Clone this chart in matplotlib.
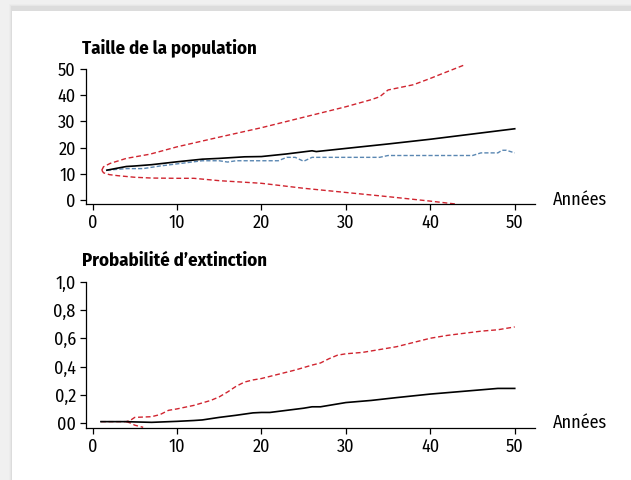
import numpy as np
import matplotlib.pyplot as plt
from matplotlib.patches import Rectangle

plt.rcParams['font.family'] = ['Fira Sans Condensed', 'DejaVu Sans']
plt.rcParams['font.stretch'] = 'condensed'

# --- population size (top panel) ---
mean_x = [1.7, 3, 4, 5, 7, 10, 13, 15, 18, 20, 23, 25, 26, 26.5, 30, 35, 40, 45, 50]
mean_y = [11.4, 12.2, 12.8, 13, 13.5, 14.6, 15.6, 15.9, 16.5, 16.6, 17.6, 18.4, 18.8, 18.5, 19.7, 21.4, 23.2, 25.2, 27.2]

median_x = [1.7, 4, 6, 8, 10, 12, 13, 15, 16, 17, 22, 23, 24, 25, 26, 34, 35, 45, 46, 48, 48.5, 49, 50]
median_y = [11.4, 12, 12, 13, 13.8, 14.6, 15, 15, 14.5, 15, 15, 16.3, 16.3, 14.8, 16.3, 16.3, 17, 17, 18, 18, 19, 19, 18]

upper_x = [1.1, 1.3, 2.1, 4, 6.8, 10, 15, 20, 25, 30, 33, 34, 35, 38, 40, 41, 44]
upper_y = [11.4, 12.7, 14, 15.9, 17.5, 20.3, 24, 27.6, 31.6, 35.6, 38.3, 39.4, 42, 44, 46.4, 47.7, 51.5]

lower_x = [1.1, 1.3, 2, 3, 5, 7, 10, 12, 15, 20, 25, 30, 35, 40, 43]
lower_y = [11.4, 10.4, 9.7, 9.3, 8.7, 8.4, 8.3, 8.3, 7.4, 6.4, 4.5, 2.9, 1.3, -0.4, -1.5]

# --- extinction probability (bottom panel) ---
pext_x = [1, 4, 5, 7, 10, 12, 13, 15, 17, 19, 20, 21, 23, 25, 26, 27, 28, 30, 33, 36, 40, 43, 46, 48, 50]
pext_y = [0.01, 0.01, 0.008, 0.005, 0.012, 0.018, 0.022, 0.04, 0.055, 0.072, 0.075, 0.075, 0.09,
          0.105, 0.115, 0.115, 0.125, 0.145, 0.16, 0.18, 0.205, 0.22, 0.235, 0.245, 0.245]

pext_hi_x = [1, 4, 4.5, 5, 7, 8, 9, 10, 12, 14, 15, 16, 17, 18, 19, 20, 22, 24, 26, 27, 28, 29, 30,
             32, 34, 36, 38, 40, 42, 44, 46, 48, 50]
pext_hi_y = [0.01, 0.01, 0.02, 0.04, 0.045, 0.06, 0.09, 0.1, 0.125, 0.16, 0.185, 0.22, 0.26, 0.29,
             0.305, 0.315, 0.345, 0.375, 0.41, 0.425, 0.455, 0.48, 0.49, 0.5, 0.52, 0.54, 0.57,
             0.6, 0.62, 0.635, 0.65, 0.66, 0.68]

pext_lo_x = [4, 4.5, 5, 6]
pext_lo_y = [0.01, 0.0, -0.015, -0.03]

xticks = [0, 10, 20, 30, 40, 50]
pop_ticks = [0, 10, 20, 30, 40, 50]
prob_ticks = [0, 0.2, 0.4, 0.6, 0.8, 1.0]
prob_labels = ['00', '0,2', '0,4', '0,6', '0,8', '1,0']

red = '#d0242f'
blue = '#5a87b2'
fs = 13

fig = plt.figure(figsize=(6.31, 4.8), dpi=100, facecolor='#f0f0f0')
# white card with soft shadow
for i, a in enumerate([0.015, 0.025, 0.04]):
    fig.patches.append(Rectangle(((9 + i) / 631, 0), 1, (471 - i) / 480 + 0.01,
                                 transform=fig.transFigure, facecolor='#000000',
                                 alpha=a, edgecolor='none', zorder=-10))
fig.patches.append(Rectangle((12 / 631, 0), 1, 469 / 480, transform=fig.transFigure,
                             facecolor='white', edgecolor='none', zorder=-5))


def style(ax, ylim, yticks, ylabels):
    ax.set_xlim(-0.83, 52.4)
    ax.set_ylim(*ylim)
    ax.spines[['top', 'right']].set_visible(False)
    ax.spines['left'].set_bounds(ylim[0], yticks[-1])
    ax.spines[['left', 'bottom']].set_linewidth(0.9)
    ax.set_xticks(xticks)
    ax.set_yticks(yticks)
    ax.set_yticklabels(ylabels)
    ax.tick_params(labelsize=fs, length=4, width=0.9, pad=3)
    ax.set_facecolor('none')
    ax.text(1.04, 0, 'Années', transform=ax.get_yaxis_transform(), fontsize=fs,
            va='center', ha='left')


ax1 = fig.add_axes([85.5 / 631, (480 - 204) / 480, (535 - 85.5) / 631, (204 - 69) / 480])
ax1.plot(upper_x, upper_y, color=red, lw=1, ls=(0, (3.5, 2)), clip_on=False)
ax1.plot(lower_x, lower_y, color=red, lw=1, ls=(0, (3.5, 2)), clip_on=False)
ax1.plot(median_x, median_y, color=blue, lw=1, ls=(0, (3, 1.5)))
ax1.plot(mean_x, mean_y, color='black', lw=1.2)
style(ax1, (-1.5, 50), pop_ticks, [str(t) for t in pop_ticks])
ax1.set_title('Taille de la population', loc='left', fontsize=13.5, fontweight='bold',
              x=-0.008, pad=11)

ax2 = fig.add_axes([85.5 / 631, (480 - 428) / 480, (535 - 85.5) / 631, (428 - 281.7) / 480])
ax2.plot(pext_hi_x, pext_hi_y, color=red, lw=1, ls=(0, (3.5, 2)))
ax2.plot(pext_lo_x, pext_lo_y, color=red, lw=1, ls=(0, (3.5, 2)), clip_on=False)
ax2.plot(pext_x, pext_y, color='black', lw=1.2)
style(ax2, (-0.035, 1.0), prob_ticks, prob_labels)
ax2.set_title('Probabilité d\u2019extinction', loc='left', fontsize=13.5, fontweight='bold',
              x=-0.008, pad=11)

fig.savefig('out.png', dpi=100, facecolor=fig.get_facecolor())
